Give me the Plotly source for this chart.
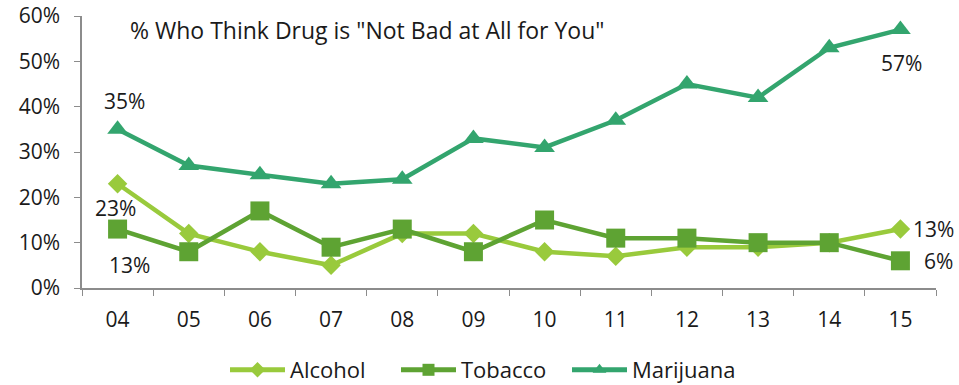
import plotly.graph_objects as go

years = ["04", "05", "06", "07", "08", "09", "10", "11", "12", "13", "14", "15"]
alcohol = [23, 12, 8, 5, 12, 12, 8, 7, 9, 9, 10, 13]
tobacco = [13, 8, 17, 9, 13, 8, 15, 11, 11, 10, 10, 6]
marijuana = [35, 27, 25, 23, 24, 33, 31, 37, 45, 42, 53, 57]
y_ticks = [0, 10, 20, 30, 40, 50, 60]

c_alc = "#99CA3C"
c_tob = "#5EA333"
c_mar = "#33A56E"
font = "Open Sans, DejaVu Sans, sans-serif"
ink = "#1a1a1a"

fig = go.Figure()
fig.add_trace(go.Scatter(x=years, y=alcohol, name="Alcohol", mode="lines+markers",
                         line=dict(color=c_alc, width=4.5),
                         marker=dict(symbol="diamond", size=15, color=c_alc)))
fig.add_trace(go.Scatter(x=years, y=tobacco, name="Tobacco", mode="lines+markers",
                         line=dict(color=c_tob, width=4.5),
                         marker=dict(symbol="square", size=19, color=c_tob)))
fig.add_trace(go.Scatter(x=years, y=marijuana, name="Marijuana", mode="lines+markers",
                         line=dict(color=c_mar, width=4.5),
                         marker=dict(symbol="triangle-up", size=18, color=c_mar)))

# value callouts on first and last points (x given as category index)
first, last = 0, len(years) - 1
labels = [
    (first, marijuana[first], 7, 28),
    (first, alcohol[first], -2, -24),
    (first, tobacco[first], 12, -36),
    (last, marijuana[last], 1, -33),
    (last, alcohol[last], 33, 0),
    (last, tobacco[last], 38, 0),
]
annotations = [
    dict(x=x, y=y, xref="x", yref="y", text=f"{y}%", showarrow=False,
         xshift=dx, yshift=dy, font=dict(family=font, size=21, color=ink))
    for x, y, dx, dy in labels
]
annotations.append(dict(xref="paper", yref="paper", x=0.054, y=0.95, xanchor="left",
                        yanchor="middle", showarrow=False,
                        text='% Who Think Drug is "Not Bad at All for You"',
                        font=dict(family=font, size=23, color=ink)))

fig.update_layout(
    width=959, height=385,
    margin=dict(l=82, r=23, t=16, b=97),
    plot_bgcolor="white", paper_bgcolor="white",
    font=dict(family=font, size=20, color=ink),
    showlegend=True,
    legend=dict(orientation="h", xref="container", yref="container",
                x=225 / 959, xanchor="left", y=1 - 370 / 385, yanchor="middle",
                font=dict(family=font, size=22, color=ink), itemwidth=55,
                itemsizing="constant", entrywidth=101, entrywidthmode="pixels",
                traceorder="normal"),
    annotations=annotations,
    xaxis=dict(type="category", tickson="boundaries", showline=True, linecolor="#8c8c8c",
               linewidth=1.5, ticks="outside", ticklen=6, tickcolor="#8c8c8c",
               showgrid=False, zeroline=False, range=[-0.5, 11.5],
               tickfont=dict(size=21), ticklabelstandoff=12, automargin=False),
    yaxis=dict(range=[0, 60], tickvals=y_ticks, ticktext=[f"{v}%" for v in y_ticks],
               showline=True, linecolor="#8c8c8c", linewidth=1.5, ticks="outside",
               ticklen=6, tickcolor="#8c8c8c", showgrid=False, zeroline=False,
               tickfont=dict(size=21), ticklabelstandoff=10, automargin=False),
)

fig.write_html("out.html")
